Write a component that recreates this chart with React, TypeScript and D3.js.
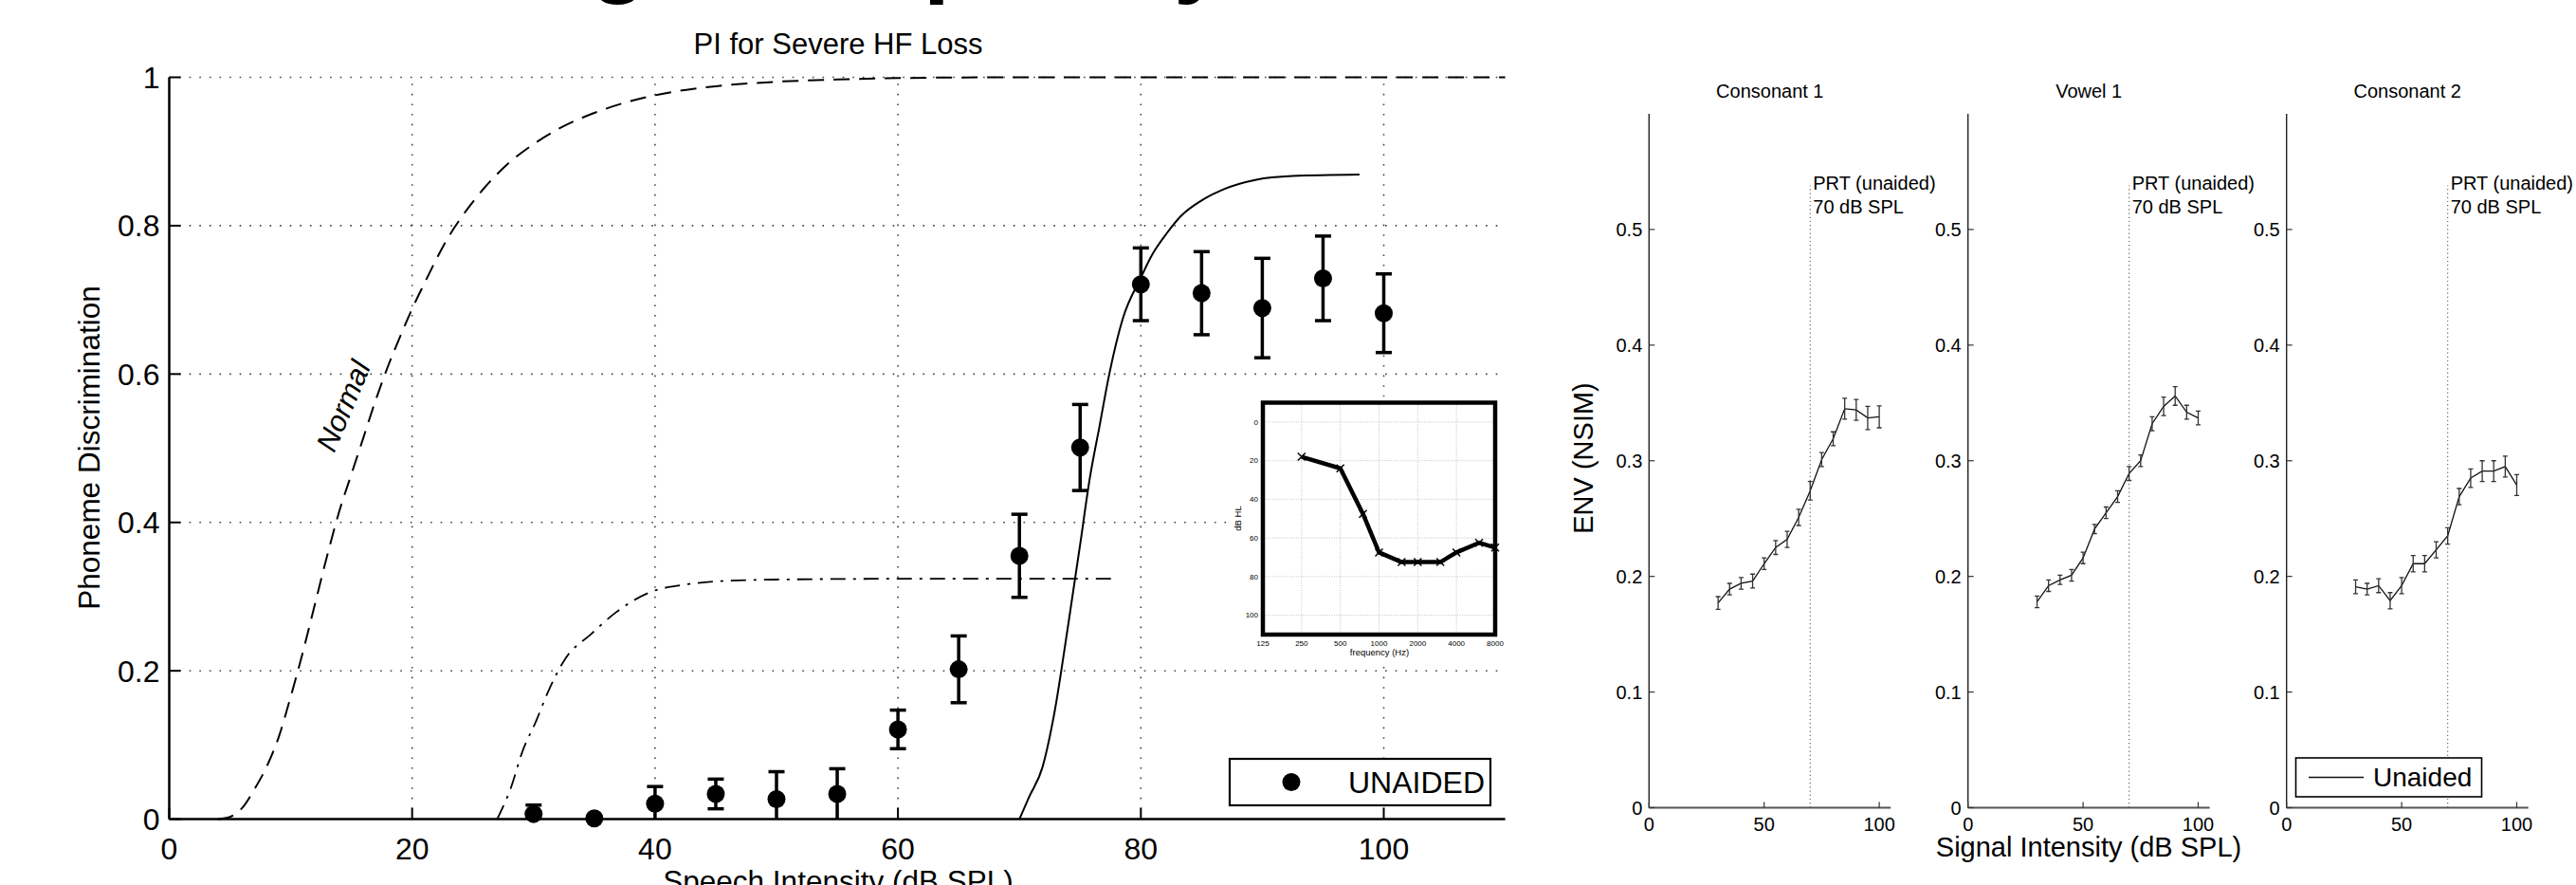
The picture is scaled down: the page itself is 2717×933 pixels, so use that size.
import React from 'react';
import * as d3 from 'd3';

const W = 2717;
const H = 933;
const FONT = 'Liberation Sans, Arial, Helvetica, sans-serif';

// ---------- Main panel: PI for Severe HF Loss ----------
const intensityLevels = [30, 35, 40, 45, 50, 55, 60, 65, 70, 75, 80, 85, 90, 95, 100];
const unaidedScores = [0.007, 0.001, 0.021, 0.034, 0.027, 0.034, 0.121, 0.202, 0.355, 0.501, 0.721, 0.709, 0.689, 0.729, 0.682];
const unaidedErrors = [0.012, 0.002, 0.023, 0.02, 0.037, 0.034, 0.026, 0.045, 0.056, 0.058, 0.049, 0.056, 0.067, 0.057, 0.053];

const normalCurveX = [4, 5, 6, 7, 8, 9, 10, 11, 12, 13, 14, 15, 16, 17, 18, 19, 20, 21, 22, 23, 24, 25, 26, 28, 30, 32, 35, 38, 41, 45, 50, 55, 60, 70, 110];
const normalCurveY = [0, 0.003, 0.015, 0.04, 0.07, 0.11, 0.165, 0.225, 0.29, 0.355, 0.415, 0.465, 0.515, 0.565, 0.61, 0.65, 0.688, 0.722, 0.755, 0.785, 0.81, 0.832, 0.852, 0.885, 0.91, 0.93, 0.952, 0.968, 0.979, 0.988, 0.994, 0.997, 0.999, 1, 1];

const lossCurveX = [27, 28.1, 29.1, 30.2, 31.2, 32.6, 34.7, 36.8, 39.6, 42.4, 45.5, 50, 60, 78];
const lossCurveY = [0, 0.041, 0.092, 0.132, 0.172, 0.216, 0.249, 0.279, 0.306, 0.316, 0.321, 0.323, 0.324, 0.324];

const predCurveX = [70, 70.8, 71.9, 72.9, 74, 75, 75.8, 76.6, 77.4, 78.5, 80, 80.9, 82.1, 83.3, 85, 86.8, 89.5, 92.5, 98];
const predCurveY = [0, 0.03, 0.07, 0.145, 0.26, 0.37, 0.46, 0.53, 0.6, 0.674, 0.73, 0.76, 0.789, 0.813, 0.834, 0.849, 0.862, 0.867, 0.869];

const mainXTicks = [0, 20, 40, 60, 80, 100];
const mainYTicks = [0, 0.2, 0.4, 0.6, 0.8, 1];
const mainYTickLabels = ['0', '0.2', '0.4', '0.6', '0.8', '1'];

// ---------- Inset audiogram ----------
const audioFreqs = [250, 500, 750, 1000, 1500, 2000, 3000, 4000, 6000, 8000];
const audioDbHL = [18, 24, 47.5, 67.5, 72.5, 72.5, 72.5, 67.5, 62.5, 65];
const audioXTicks = [125, 250, 500, 1000, 2000, 4000, 8000];
const audioYTicks = [0, 20, 40, 60, 80, 100];

// ---------- NSIM panels ----------
const nsimLevels = [30, 35, 40, 45, 50, 55, 60, 65, 70, 75, 80, 85, 90, 95, 100];
const consonant1Mean = [0.177, 0.189, 0.194, 0.196, 0.211, 0.225, 0.232, 0.251, 0.274, 0.301, 0.319, 0.345, 0.344, 0.337, 0.338];
const consonant1Err = [0.0055, 0.005, 0.005, 0.006, 0.005, 0.006, 0.007, 0.007, 0.008, 0.006, 0.006, 0.009, 0.009, 0.01, 0.0095];
const vowel1Mean = [0.178, 0.192, 0.197, 0.201, 0.216, 0.241, 0.255, 0.269, 0.289, 0.3, 0.332, 0.347, 0.356, 0.342, 0.337];
const vowel1Err = [0.005, 0.005, 0.004, 0.005, 0.005, 0.004, 0.005, 0.005, 0.006, 0.005, 0.006, 0.008, 0.008, 0.006, 0.006];
const consonant2Mean = [0.191, 0.189, 0.192, 0.179, 0.192, 0.211, 0.211, 0.223, 0.235, 0.269, 0.285, 0.291, 0.291, 0.295, 0.279];
const consonant2Err = [0.006, 0.005, 0.006, 0.007, 0.007, 0.007, 0.007, 0.007, 0.007, 0.007, 0.008, 0.009, 0.009, 0.009, 0.009];
const panelTitles = ['Consonant 1', 'Vowel 1', 'Consonant 2'];
const panelLeft = [1739.3, 2075.7, 2411.7];
const nsimYTicks = [0, 0.1, 0.2, 0.3, 0.4, 0.5];
const nsimYTickLabels = ['0', '0.1', '0.2', '0.3', '0.4', '0.5'];
const nsimXTicks = [0, 50, 100];
const prtLevel = 70;
const prtTop = 0.538;

function Txt(props: any) {
  const { x, y, size, anchor = 'start', sx = 1, sy = 1, rot = 0, weight = 'normal', italic = false, dy, children } = props;
  return (
    <text
      transform={`translate(${x},${y}) scale(${sx},${sy}) rotate(${rot})`}
      fontSize={size}
      fontFamily={FONT}
      textAnchor={anchor}
      fontWeight={weight}
      fontStyle={italic ? 'italic' : 'normal'}
      dy={dy}
      fill="#000"
    >
      {children}
    </text>
  );
}

function MainPanel() {
  const x = d3.scaleLinear().domain([0, 110]).range([178.5, 1587.6]);
  const y = d3.scaleLinear().domain([0, 1]).range([863.6, 81.5]);
  const line = d3
    .line<[number, number]>()
    .x((d) => x(d[0]))
    .y((d) => y(d[1]))
    .curve(d3.curveMonotoneX);
  const normalPts = normalCurveX.map((v, i) => [v, normalCurveY[i]] as [number, number]);
  const lossPts = lossCurveX.map((v, i) => [v, lossCurveY[i]] as [number, number]);
  const predPts = predCurveX.map((v, i) => [v, predCurveY[i]] as [number, number]);
  const gridStyle = { stroke: '#444', strokeWidth: 1.6, strokeDasharray: '1.6,9' };
  return (
    <g>
      {/* grid */}
      {mainXTicks.filter((t) => t > 0).map((t) => (
        <line key={'gx' + t} x1={x(t)} x2={x(t)} y1={y(0)} y2={y(1)} {...gridStyle} />
      ))}
      {mainYTicks.filter((t) => t > 0).map((t) => (
        <line key={'gy' + t} x1={x(0)} x2={x(110)} y1={y(t)} y2={y(t)} {...gridStyle} />
      ))}
      {/* axes */}
      <line x1={x(0)} x2={x(0)} y1={y(0)} y2={y(1)} stroke="#000" strokeWidth={2.5} />
      <line x1={x(0)} x2={x(110)} y1={y(0)} y2={y(0)} stroke="#000" strokeWidth={2.5} />
      {mainYTicks.map((t) => (
        <line key={'ty' + t} x1={x(0)} x2={x(0) + 12} y1={y(t)} y2={y(t)} stroke="#000" strokeWidth={2} />
      ))}
      {mainXTicks.map((t) => (
        <line key={'tx' + t} x1={x(t)} x2={x(t)} y1={y(0)} y2={y(0) - 12} stroke="#000" strokeWidth={2} />
      ))}
      {mainYTicks.map((t, i) => (
        <Txt key={'ly' + t} x={x(0) - 10} y={y(t)} size={32} anchor="end" dy="0.36em">
          {mainYTickLabels[i]}
        </Txt>
      ))}
      {mainXTicks.map((t) => (
        <Txt key={'lx' + t} x={x(t)} y={906} size={32} anchor="middle">
          {String(t)}
        </Txt>
      ))}
      <Txt x={884} y={57} size={31}>
        <tspan textAnchor="middle">PI for Severe HF Loss</tspan>
      </Txt>
      <Txt x={105} y={472} size={31.5} anchor="middle" rot={-90}>
        Phoneme Discrimination
      </Txt>
      <Txt x={884} y={940} size={31.5} anchor="middle">
        Speech Intensity (dB SPL)
      </Txt>
      {/* curves */}
      <path d={line(normalPts) || ''} fill="none" stroke="#000" strokeWidth={2} strokeDasharray="17,10" />
      <path d={line(lossPts) || ''} fill="none" stroke="#000" strokeWidth={1.8} strokeDasharray="16,8,3,8" />
      <path d={line(predPts) || ''} fill="none" stroke="#000" strokeWidth={2} />
      <Txt x={362} y={428} size={31} anchor="middle" rot={-67} italic dy="0.35em">
        Normal
      </Txt>
      {/* data points */}
      {intensityLevels.map((lv, i) => {
        const top = unaidedScores[i] + unaidedErrors[i];
        const bot = Math.max(0, unaidedScores[i] - unaidedErrors[i]);
        return (
          <g key={'pt' + lv}>
            <line x1={x(lv)} x2={x(lv)} y1={y(top)} y2={y(bot)} stroke="#000" strokeWidth={3.5} />
            <line x1={x(lv) - 8.5} x2={x(lv) + 8.5} y1={y(top)} y2={y(top)} stroke="#000" strokeWidth={3.5} />
            {unaidedScores[i] - unaidedErrors[i] > 0 && (
              <line x1={x(lv) - 8.5} x2={x(lv) + 8.5} y1={y(bot)} y2={y(bot)} stroke="#000" strokeWidth={3.5} />
            )}
            <ellipse cx={x(lv)} cy={y(unaidedScores[i])} rx={9.5} ry={9.5} fill="#000" />
          </g>
        );
      })}
      {/* legend */}
      <rect x={1297} y={800} width={275} height={49} fill="#fff" stroke="#000" strokeWidth={2.2} />
      <circle cx={1362} cy={824.5} r={9.5} fill="#000" />
      <Txt x={1422} y={836} size={32}>
        UNAIDED
      </Txt>
    </g>
  );
}

function Audiogram() {
  const x = d3.scaleLog().base(2).domain([125, 8000]).range([1332, 1577]);
  const y = d3.scaleLinear().domain([-10, 110]).range([424.5, 669]);
  const line = d3
    .line<number>()
    .x((d, i) => x(audioFreqs[i]))
    .y((d) => y(d));
  const grid = { stroke: '#bbb', strokeWidth: 0.9, strokeDasharray: '1,1.5' };
  return (
    <g>
      <rect x={1297} y={418} width={290} height={278} fill="#fff" />
      {audioXTicks.slice(1, -1).map((f) => (
        <line key={'ax' + f} x1={x(f)} x2={x(f)} y1={y(-10)} y2={y(110)} {...grid} />
      ))}
      {audioYTicks.map((t) => (
        <line key={'ay' + t} x1={x(125)} x2={x(8000)} y1={y(t)} y2={y(t)} {...grid} />
      ))}
      <rect x={x(125)} y={y(-10)} width={x(8000) - x(125)} height={y(110) - y(-10)} fill="none" stroke="#000" strokeWidth={4.5} />
      {audioYTicks.map((t) => (
        <Txt key={'aly' + t} x={1327} y={y(t)} size={8} anchor="end" dy="0.35em">
          {String(t)}
        </Txt>
      ))}
      {audioXTicks.map((f) => (
        <Txt key={'alx' + f} x={x(f)} y={681} size={8} anchor="middle">
          {String(f)}
        </Txt>
      ))}
      <Txt x={1455} y={690.5} size={9.5} anchor="middle">
        frequency (Hz)
      </Txt>
      <Txt x={1309} y={546.5} size={9.5} anchor="middle" rot={-90}>
        dB HL
      </Txt>
      <path d={line(audioDbHL) || ''} fill="none" stroke="#000" strokeWidth={4.5} strokeLinejoin="round" />
      {audioFreqs.map((f, i) => (
        <path
          key={'am' + f}
          d={`M${x(f) - 4},${y(audioDbHL[i]) - 4}L${x(f) + 4},${y(audioDbHL[i]) + 4}M${x(f) - 4},${y(audioDbHL[i]) + 4}L${x(f) + 4},${y(audioDbHL[i]) - 4}`}
          stroke="#000"
          strokeWidth={1.5}
        />
      ))}
    </g>
  );
}

function NsimPanel(props: { idx: number; mean: number[]; err: number[] }) {
  const { idx, mean, err } = props;
  const left = panelLeft[idx];
  const x = d3.scaleLinear().domain([0, 105]).range([left, left + 105 * 2.428]);
  const y = d3.scaleLinear().domain([0, 0.6]).range([851.5, 120]);
  const line = d3
    .line<number>()
    .x((d, i) => x(nsimLevels[i]))
    .y((d) => y(d));
  return (
    <g>
      <line x1={x(prtLevel)} x2={x(prtLevel)} y1={y(0)} y2={y(prtTop)} stroke="#666" strokeWidth={1.2} strokeDasharray="1.2,3" />
      <Txt x={x(prtLevel) + 3} y={200} size={20}>
        PRT (unaided)
      </Txt>
      <Txt x={x(prtLevel) + 3} y={225} size={20}>
        70 dB SPL
      </Txt>
      <line x1={x(0)} x2={x(0)} y1={y(0)} y2={y(0.6)} stroke="#222" strokeWidth={1.4} />
      <line x1={x(0)} x2={x(105)} y1={y(0)} y2={y(0)} stroke="#555" strokeWidth={2} />
      {nsimYTicks.map((t, i) => (
        <g key={'ny' + t}>
          <line x1={x(0)} x2={x(0) + 6} y1={y(t)} y2={y(t)} stroke="#333" strokeWidth={1.2} />
          <Txt x={x(0) - 7} y={y(t)} size={20} anchor="end" dy="0.36em">
            {nsimYTickLabels[i]}
          </Txt>
        </g>
      ))}
      {nsimXTicks.map((t) => (
        <g key={'nx' + t}>
          <line x1={x(t)} x2={x(t)} y1={y(0)} y2={y(0) - 6} stroke="#333" strokeWidth={1.2} />
          <Txt x={x(t)} y={876} size={20} anchor="middle">
            {String(t)}
          </Txt>
        </g>
      ))}
      <Txt x={x(52.5)} y={103} size={20} anchor="middle">
        {panelTitles[idx]}
      </Txt>
      <path d={line(mean) || ''} fill="none" stroke="#111" strokeWidth={1.3} />
      {nsimLevels.map((lv, i) => {
        const cx = x(lv);
        const t = y(mean[i] + err[i]);
        const b = y(mean[i] - err[i]);
        return (
          <path
            key={'ne' + lv}
            d={`M${cx},${t}L${cx},${b}M${cx - 2.5},${t}L${cx + 2.5},${t}M${cx - 2.5},${b}L${cx + 2.5},${b}`}
            stroke="#333"
            strokeWidth={1.3}
            fill="none"
          />
        );
      })}
    </g>
  );
}

export default function App() {
  return (
    <svg
      width={W}
      height={H}
      viewBox={`0 0 ${W} ${H}`}
      style={{ position: 'absolute', left: 0, top: 0, display: 'block', background: '#fff' }}
    >
      <rect x={0} y={0} width={W} height={H} fill="#fff" />
      {/* cropped descenders of a large heading above the frame */}
      <Txt x={622} y={-16} size={100} weight="bold">g</Txt>
      <Txt x={974} y={-16} size={100} weight="bold">p</Txt>
      <Txt x={1238} y={-16} size={100} weight="bold">y</Txt>
      <MainPanel />
      <Audiogram />
      <NsimPanel idx={0} mean={consonant1Mean} err={consonant1Err} />
      <NsimPanel idx={1} mean={vowel1Mean} err={vowel1Err} />
      <NsimPanel idx={2} mean={consonant2Mean} err={consonant2Err} />
      <Txt x={1680} y={483} size={29} anchor="middle" rot={-90}>
        ENV (NSIM)
      </Txt>
      <Txt x={2203} y={903} size={29} anchor="middle">
        Signal Intensity (dB SPL)
      </Txt>
      {/* NSIM legend */}
      <rect x={2421.5} y={799} width={196} height={41} fill="#fff" stroke="#000" strokeWidth={1.6} />
      <line x1={2435} x2={2493} y1={819.5} y2={819.5} stroke="#111" strokeWidth={1.3} />
      <Txt x={2503} y={829} size={28}>
        Unaided
      </Txt>
    </svg>
  );
}
